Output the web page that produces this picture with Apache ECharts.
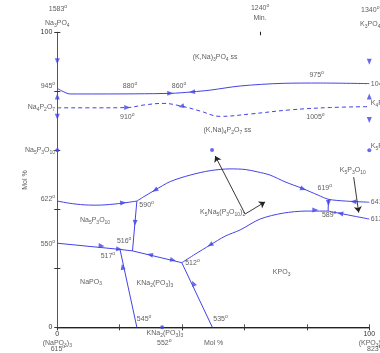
<!DOCTYPE html>
<html><head><meta charset="utf-8">
<script src="https://cdn.jsdelivr.net/npm/echarts@6/dist/echarts.min.js"></script>
<style>html,body{margin:0;padding:0;background:#fff}#c{width:380px;height:353px}</style>
</head><body><div id="c"></div>
<script>
// ---- data (mol % K, mol % P-anion) ----
const topLiquidus = [[0,81.0],[1.5,80.1],[4.1,79.1],[13.7,79.1],[36.2,79.3],[43.2,79.8],[49.0,80.4],[58.6,81.8],[72.4,82.7],[84.3,82.8],[100,82.6]];
const pyroBoundary = [[0,74.4],[13.7,74.4],[22.4,74.5],[28.1,75.4],[33.9,75.9],[39.7,75.0],[45.8,73.3],[52.2,71.5],[61.8,72.3],[74.6,73.7],[87.5,74.5],[100,74.8]];
const curve622 = [[0,42.8],[5.7,41.8],[12.1,41.4],[18.5,41.8],[25.5,42.8]];
const line590to516 = [[25.5,42.8],[24.1,25.9]];
const curve550 = [[0,28.5],[20.1,26.4],[24.1,25.9],[39.9,21.9]];
const line545 = [[25.5,0],[20.1,26.4]];
const line535 = [[49.7,0],[39.9,21.9]];
const curve512to589 = [[39.9,21.9],[44.2,24.8],[49.0,27.9],[53.8,30.9],[58.6,33.0],[65.0,36.7],[72.4,38.7],[79.8,39.4],[86.8,39.4]];
const curve589to613 = [[86.8,39.4],[90.7,38.6],[95.5,37.6],[100,36.7]];
const line619to589 = [[86.9,43.4],[86.8,39.4]];
const curve590to641 = [[25.5,42.8],[28.1,44.5],[31.3,46.5],[36.2,49.4],[42.6,51.6],[49.0,53.1],[55.4,53.7],[60.2,53.5],[64.1,52.7],[68.2,51.6],[73.0,49.3],[78.5,47.1],[83.6,44.8],[86.9,43.4],[92.3,42.8],[100,42.4]];
const compoundDots = [[0,60.0],[100,60.0],[49.6,60.1],[33.6,0]];
// arrows: x, y, heading (deg, 0 = right, 90 = up)
const arrows = [[0,90.2,-90],[0,78.2,90],[0,71.4,-90],[100,90.0,-90],[100,78.2,90],[100,70.3,-90],
  [36.2,79.3,0],[43.2,79.8,185],[22.4,74.5,0],[39.7,74.9,195],[21.1,42.2,5],[24.9,35.4,-95],
  [14.2,27.6,-5.5],[19.8,26.5,-5.5],[29.7,24.6,167],[37.1,22.8,-13],[20.9,20.5,102],[43.6,14.9,115],
  [49.0,27.9,211],[82.7,39.8,0],[90.7,38.6,169],[31.3,46.5,210],[78.8,46.9,-21],[94.9,42.6,178],[86.9,42.1,-90]];
const pointerLines = [[[60.2,38.4],[50.6,58.1]],[[60.2,38.4],[66.6,42.5]],[[95.0,50.9],[96.6,38.9]]];
const minMark = [[[65.1,101.3],[65.1,99.0]]];
// text labels: text, x, y
const fieldLabels = [['(K,Na){s|3}PO{s|4} ss',50.6,91.7],['(K,Na){s|4}P{s|2}O{s|7} ss',54.5,66.9],['Na{s|5}P{s|3}O{s|10}',12.1,36.4],
  ['K{s|5}Na{s|5}(P{s|3}O{s|10}){s|2}',53.0,39.2],['K{s|5}P{s|3}O{s|10}',94.7,53.3],['NaPO{s|3}',10.8,15.5],
  ['KNa{s|2}(PO{s|3}){s|3}',31.3,15.0],['KPO{s|3}',71.9,18.8],
  ['1583{p|o}',0.2,107.9],['Na{s|3}PO{s|4}',0,103.2],['1240{p|o}',65.0,108.2],['Min.',65.0,104.8],['1340{p|o}',100.3,107.6],['K{s|3}PO{s|4}',100.3,102.8],
  ['(NaPO{s|3}){s|3}',0,-5.3],['615{p|o}',0.2,-7.4],['KNa{s|2}(PO{s|3}){s|3}',34.5,-1.9],['552{p|o}',34.3,-5.3],['Mol %',50.1,-5.3],
  ['(KPO{s|3}){s|3}',100.6,-5.3],['823{p|o}',101.6,-7.4]];
const tempLabels = [['880{p|o}',21.0,81.8],['860{p|o}',36.7,81.8],['975{p|o}',80.8,85.5],['910{p|o}',20.1,71.4],['1005{p|o}',79.8,71.4],
  ['590{p|o}',26.3,41.5],['619{p|o}',83.4,47.1],['589{p|o}',84.8,38.1],['516{p|o}',19.1,29.3],['517{p|o}',13.9,24.2],
  ['512{p|o}',41.0,21.9],['545{p|o}',25.5,2.7],['535{p|o}',50.0,2.7],
  ['1042{p|o}',100.5,82.5],['K{s|4}P{s|2}O{s|7}',100.5,76.0],['K{s|5}P{s|3}O{s|10}',100.5,61.5],['641{p|o}',100.5,42.5],['613{p|o}',100.5,36.7]];
const leftLabels = [['945{p|o}',-0.7,81.8],['Na{s|4}P{s|2}O{s|7}',-0.7,74.7],['Na{s|5}P{s|3}O{s|10}',-0.7,60.1],['622{p|o}',-0.7,43.5],['550{p|o}',-0.7,28.2]];
const sideTitle = [['Mol %',-10.4,49.9]];
const xTicks = [0,100];
const yTicks = [0,100];

// ---- styles ----
const BLUE = '#4343e6';
const FONT = 'Liberation Sans';
const TXT = '#333';
const rich = {
  s:{fontSize:5,fontFamily:FONT,color:TXT,verticalAlign:'bottom',lineHeight:10},
  p:{fontSize:5,fontFamily:FONT,color:TXT,verticalAlign:'top',lineHeight:10}
};
function textSeries(items, align, rotate){
  return {type:'scatter',clip:false,symbolSize:0,silent:true,z:5,
    data:items.map(d=>({value:[d[1],d[2]],name:d[0]})),
    label:{show:true,position:[0,0],align:align,verticalAlign:'middle',rotate:rotate||0,
      formatter:p=>p.name,fontSize:7,fontFamily:FONT,color:TXT,lineHeight:10,rich:rich}};
}
function curve(data, smooth, dashed){
  return {type:'line',data:data,showSymbol:false,smooth:smooth,silent:true,z:3,
    lineStyle:{color:BLUE,width:1,type:dashed?[4,3]:'solid'}};
}
const chart = echarts.init(document.getElementById('c'),null,{renderer:'canvas'});
const axisCommon = {type:'value',min:0,max:100,interval:20,splitLine:{show:false}};
chart.setOption({
  animation:false,
  grid:{left:57.3,right:10.7,top:32.3,bottom:25.7},
  xAxis:[
    Object.assign({},axisCommon,{position:'bottom',axisLine:{lineStyle:{color:'#8a8a8a',width:1.5}},
      axisTick:{inside:true,length:3,lineStyle:{color:'#555'}},
      axisLabel:{fontSize:7,fontFamily:FONT,color:TXT,margin:3,formatter:v=>xTicks.includes(v)?String(v):''}}),
    Object.assign({},axisCommon,{position:'top',axisLine:{lineStyle:{color:'#222',width:1}},
      axisTick:{inside:true,length:3,lineStyle:{color:'#333'}},axisLabel:{show:false}})
  ],
  yAxis:[
    Object.assign({},axisCommon,{position:'left',axisLine:{lineStyle:{color:BLUE,width:1}},
      axisTick:{inside:true,length:3,lineStyle:{color:'#333'}},
      axisLabel:{fontSize:7,fontFamily:FONT,color:TXT,margin:5,formatter:v=>yTicks.includes(v)?String(v):''}}),
    Object.assign({},axisCommon,{position:'right',axisLine:{lineStyle:{color:BLUE,width:1}},
      axisTick:{inside:true,length:3,lineStyle:{color:'#333'}},axisLabel:{show:false}})
  ],
  series:[
    curve(topLiquidus,0.3,false),
    curve(pyroBoundary,0.4,true),
    curve(curve622,0.4,false),
    curve(line590to516,false,false),
    curve(curve550,false,false),
    curve(line545,false,false),
    curve(line535,false,false),
    curve(curve512to589,0.3,false),
    curve(curve589to613,0.2,false),
    curve(line619to589,false,false),
    curve(curve590to641,0.3,false),
    {type:'scatter',data:compoundDots,symbol:'circle',symbolSize:4,itemStyle:{color:BLUE},clip:false,z:4,silent:true},
    {type:'scatter',clip:false,z:4,silent:true,symbol:'triangle',symbolSize:[5,6],itemStyle:{color:BLUE},
      data:arrows.map(a=>({value:[a[0],a[1]],symbolRotate:a[2]-90}))},
    {type:'lines',coordinateSystem:'cartesian2d',silent:true,z:4,symbol:['none','arrow'],symbolSize:6,
      lineStyle:{color:'#222',width:0.9,opacity:1},data:pointerLines.map(c=>({coords:c}))},
    {type:'lines',coordinateSystem:'cartesian2d',silent:true,z:4,symbol:['none','none'],
      lineStyle:{color:'#222',width:1,opacity:1},data:minMark.map(c=>({coords:c}))},
    textSeries(fieldLabels,'center'),
    textSeries(tempLabels,'left'),
    textSeries(leftLabels,'right'),
    textSeries(sideTitle,'center',90)
  ]
});
</script></body></html>
